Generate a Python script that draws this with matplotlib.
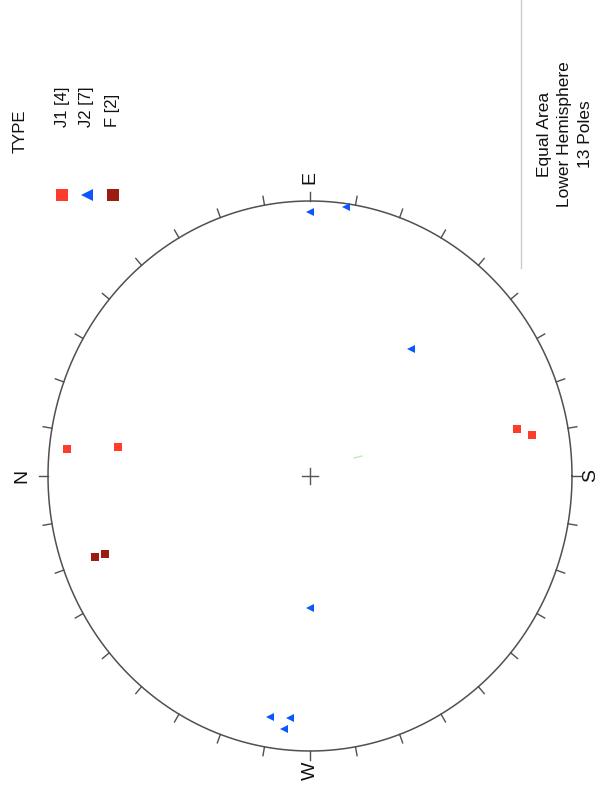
import numpy as np
import matplotlib
matplotlib.use("Agg")
import matplotlib.pyplot as plt
from matplotlib.lines import Line2D

plt.rcParams["font.family"] = ["Liberation Sans", "DejaVu Sans"]

# Poles (trend, plunge) in degrees, read from the net
j1_trend = [6.0, 8.2, 167.8, 170.0]
j1_plunge = [7.5, 26.8, 20.3, 15.1]
j2_trend = [90.0, 98.0, 129.8, 270.0, 279.9, 275.0, 276.1]
j2_plunge = [4.5, 1.4, 39.7, 50.3, 12.1, 12.7, 8.3]
f_trend = [340.2, 340.1]
f_plunge = [13.9, 17.9]

series_names = ["J1 [4]", "J2 [7]", "F [2]"]
series_colors = ["#ff3b2b", "#0b57ff", "#9b1d12"]
series_markers = ["s", "<", "s"]
info_lines = ["Equal Area", "Lower Hemisphere", "13 Poles"]

W, H = 600, 792
cx, cy, rx, ry = 310.0, 476.0, 262.0, 275.0


def project(trend, plunge):
    t = np.radians(np.asarray(trend))
    p = np.radians(np.asarray(plunge))
    r = np.sqrt(2) * np.sin((np.pi / 2 - p) / 2)
    north = r * np.cos(t)
    east = r * np.sin(t)
    # chart is rotated 90 degrees counter-clockwise: north -> left, east -> up
    return -north, east


fig = plt.figure(figsize=(W / 100, H / 100), dpi=100)
ax = fig.add_axes([0, 0, 1, 1])
ax.set_xlim(-cx / rx, (W - cx) / rx)
ax.set_ylim(-(H - cy) / ry, cy / ry)
ax.axis("off")

# primitive circle
th = np.linspace(0, 2 * np.pi, 721)
ax.plot(np.cos(th), np.sin(th), color="#505050", lw=1.1, zorder=2)

# ticks every 10 degrees (outward)
for az in range(0, 360, 10):
    a = np.radians(az)
    dxn, dyn = -np.cos(a), np.sin(a)
    ln = 9.0
    x1 = dxn + dxn * ln / rx
    y1 = dyn + dyn * ln / ry
    ax.plot([dxn, x1], [dyn, y1], color="#505050", lw=1.0, zorder=2)

# center cross
ax.plot([-8 / rx, 8 / rx], [0, 0], color="#555555", lw=1.0)
ax.plot([0, 0], [-8 / ry, 8 / ry], color="#555555", lw=1.0)

# faint green stroke near centre
ax.plot([44 / rx, 52 / rx], [18 / ry, 20 / ry], color="#b8f0b8", lw=1.0)

# cardinal labels
lab_kw = dict(rotation=90, ha="center", va="center", fontsize=14, color="#111111")
ax.text(-1 - 26.5 / rx, 0, "N", **lab_kw)
ax.text(1 + 19 / rx, 0, "S", **lab_kw)
ax.text(0, 1 + 23.5 / ry, "E", **lab_kw)
ax.text(0, -1 - 20 / ry, "W", **lab_kw)

# data
for tr, pl, col, mk, ms in [
    (j1_trend, j1_plunge, series_colors[0], series_markers[0], 5.3),
    (j2_trend, j2_plunge, series_colors[1], series_markers[1], 6.0),
    (f_trend, f_plunge, series_colors[2], series_markers[2], 5.3),
]:
    x, y = project(tr, pl)
    ax.plot(x, y, linestyle="none", marker=mk, color=col, markersize=ms,
            markeredgewidth=0, zorder=3)

# legend
fig.text(20 / W, 1 - 153 / H, "TYPE", rotation=90, ha="center", va="bottom",
         fontsize=12, color="#111111")
leg_x = [62, 87, 113]
for lx, name, col, mk in zip(leg_x, series_names, series_colors, series_markers):
    fig.text(lx / W, 1 - 127 / H, name, rotation=90, ha="center", va="bottom",
             fontsize=12, color="#111111")
    fig.lines.append(Line2D([lx / W], [1 - 195 / H], transform=fig.transFigure,
                            marker=mk, color=col, markersize=8.5,
                            markeredgewidth=0, linestyle="none"))

# info text and separator
fig.lines.append(Line2D([521 / W, 521 / W], [1, 1 - 268 / H],
                        transform=fig.transFigure, color="#cccccc", lw=1.0))
for i, t in enumerate(info_lines):
    fig.text((545 + 20 * i) / W, 1 - 134 / H, t, rotation=90, ha="center", va="center",
             fontsize=12.5, color="#111111")

fig.savefig("out.png", dpi=100, facecolor="white")
